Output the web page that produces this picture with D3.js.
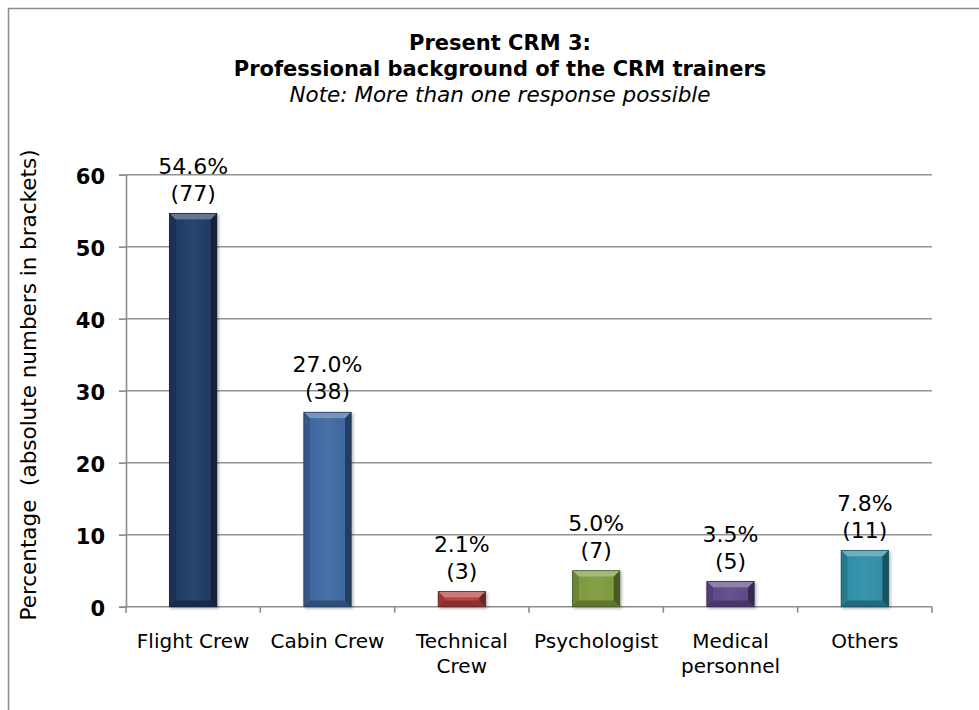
<!DOCTYPE html>
<html><head><meta charset="utf-8">
<script src="https://cdn.jsdelivr.net/npm/d3@7"></script>
<style>
html,body{margin:0;padding:0;background:#fff;}
text{font-family:"DejaVu Sans",Verdana,sans-serif;fill:#000;}
</style></head>
<body>
<svg id="chart" width="979" height="710"></svg>
<script>
const categories = ["Flight Crew","Cabin Crew","Technical\nCrew","Psychologist","Medical\npersonnel","Others"];
const percentages = [54.6, 27.0, 2.1, 5.0, 3.5, 7.8];
const counts = [77, 38, 3, 7, 5, 11];
const barColors = ["#1f3b63","#3e68a0","#b5413f","#7f9b3d","#5f4a89","#2f8ea8"];
const yTicks = [0,10,20,30,40,50,60];
const titleLines = ["Present CRM 3:","Professional background of the CRM trainers"];
const noteText = "Note: More than one response possible";
const yLabel = "Percentage  (absolute numbers in brackets)";

const svg = d3.select("#chart");
const W = 979, H = 710;
const plot = {left:126, right:932, top:174.7, bottom:606.7};

svg.append("rect").attr("x",8.5).attr("y",8.5).attr("width",W+20).attr("height",H+20)
  .attr("fill","none").attr("stroke","#8c8c8c").attr("stroke-width",1.5);

const x = d3.scaleBand().domain(d3.range(categories.length)).range([plot.left, plot.right]).padding(0);
const y = d3.scaleLinear().domain([0,60]).range([plot.bottom, plot.top]);

const defs = svg.append("defs");
const f = defs.append("filter").attr("id","sh").attr("x","-20%").attr("y","-20%").attr("width","150%").attr("height","150%");
f.append("feDropShadow").attr("dx",1.5).attr("dy",1.5).attr("stdDeviation",1.5).attr("flood-color","#000").attr("flood-opacity",0.3);

const grid = svg.append("g");
grid.selectAll("line").data(yTicks.filter(d=>d>0)).join("line")
  .attr("x1",plot.left).attr("x2",plot.right)
  .attr("y1",d=>y(d)).attr("y2",d=>y(d))
  .attr("stroke","#939393").attr("stroke-width",1.6);

const yAxis = d3.axisLeft(y).tickValues(yTicks).tickSize(7).tickPadding(14).tickFormat(d3.format("d"));
const gy = svg.append("g").attr("transform",`translate(${plot.left},0)`).call(yAxis);
gy.select(".domain").attr("stroke","#8c8c8c").attr("stroke-width",1.6);
gy.selectAll(".tick line").attr("stroke","#8c8c8c").attr("stroke-width",1.6);
gy.selectAll(".tick text").style("font-family","'DejaVu Sans',Verdana,sans-serif")
  .style("font-size","21px").style("font-weight","bold").attr("fill","#000").attr("dy","0.4em");

const boundaries = d3.range(categories.length+1).map(i => i<categories.length ? x(i) : x(categories.length-1)+x.bandwidth());
const gx = svg.append("g");
gx.append("line").attr("x1",plot.left).attr("x2",plot.right).attr("y1",plot.bottom).attr("y2",plot.bottom)
  .attr("stroke","#8c8c8c").attr("stroke-width",1.6);
gx.selectAll("line.tk").data(boundaries).join("line").attr("class","tk")
  .attr("x1",d=>d).attr("x2",d=>d).attr("y1",plot.bottom).attr("y2",plot.bottom+6)
  .attr("stroke","#8c8c8c").attr("stroke-width",1.6);

const bw = x.bandwidth()*0.352;
const bev = 6;
const bars = svg.append("g");
percentages.forEach((v,i)=>{
  const cx = x(i)+x.bandwidth()/2;
  const x0 = cx-bw/2, x1 = cx+bw/2, y0 = y(v), y1 = y(0);
  const c = d3.color(barColors[i]);
  const light = d3.interpolateRgb(c, "#ffffff")(0.3);
  const dark = d3.interpolateRgb(c, "#000000")(0.25);
  const darker = d3.interpolateRgb(c, "#000000")(0.42);
  const g = bars.append("g").attr("filter","url(#sh)");
  const gid = "grad"+i;
  const gr = defs.append("linearGradient").attr("id",gid).attr("x1","0").attr("x2","1").attr("y1","0").attr("y2","0");
  gr.append("stop").attr("offset","0").attr("stop-color",c.formatHex());
  gr.append("stop").attr("offset","0.5").attr("stop-color",d3.interpolateRgb(c,"#ffffff")(0.05));
  gr.append("stop").attr("offset","1").attr("stop-color",c.formatHex());
  g.append("rect").attr("x",x0).attr("y",y0).attr("width",bw).attr("height",y1-y0).attr("fill",dark);
  const b = Math.min(bev, (y1-y0)/2);
  g.append("rect").attr("x",x0+bev).attr("y",y0+b).attr("width",bw-2*bev).attr("height",Math.max(0,y1-y0-2*b)).attr("fill",`url(#${gid})`);
  g.append("polygon").attr("points",[[x0,y0],[x1,y0],[x1-bev,y0+b],[x0+bev,y0+b]].join(" ")).attr("fill",light);
  g.append("polygon").attr("points",[[x0,y0],[x0+bev,y0+b],[x0+bev,y1-b],[x0,y1]].join(" ")).attr("fill",d3.interpolateRgb(c,"#000")(0.15));
  g.append("polygon").attr("points",[[x1,y0],[x1-bev,y0+b],[x1-bev,y1-b],[x1,y1]].join(" ")).attr("fill",darker);
  g.append("polygon").attr("points",[[x0,y1],[x1,y1],[x1-bev,y1-b],[x0+bev,y1-b]].join(" ")).attr("fill",dark);
  g.append("rect").attr("x",x0).attr("y",y0).attr("width",bw).attr("height",y1-y0).attr("fill","none").attr("stroke",darker).attr("stroke-width",0.8);
});

const lab = svg.append("g");
percentages.forEach((v,i)=>{
  const cx = x(i)+x.bandwidth()/2;
  const t = lab.append("text").attr("text-anchor","middle").style("font-size","22px");
  t.append("tspan").attr("x",cx).attr("y",y(v)-40).text(v.toFixed(1)+"%");
  t.append("tspan").attr("x",cx).attr("y",y(v)-13).text("("+counts[i]+")");
});

const cl = svg.append("g");
categories.forEach((c,i)=>{
  const cx = x(i)+x.bandwidth()/2;
  const t = cl.append("text").attr("text-anchor","middle").style("font-size","20px");
  c.split("\n").forEach((ln,j)=>{
    t.append("tspan").attr("x",cx).attr("y",648+j*25).text(ln);
  });
});

const tx = 500;
svg.append("text").attr("x",tx).attr("y",50).attr("text-anchor","middle").style("font-size","21px").style("font-weight","bold").text(titleLines[0]);
svg.append("text").attr("x",tx).attr("y",76).attr("text-anchor","middle").style("font-size","21px").style("font-weight","bold").text(titleLines[1]);
svg.append("text").attr("x",tx).attr("y",102).attr("text-anchor","middle").style("font-size","21.5px").style("font-style","italic").text(noteText);

svg.append("text").attr("transform",`translate(36,${385}) rotate(-90)`).attr("text-anchor","middle")
  .style("font-size","21.5px").style("white-space","pre").text(yLabel);
</script>
</body></html>
